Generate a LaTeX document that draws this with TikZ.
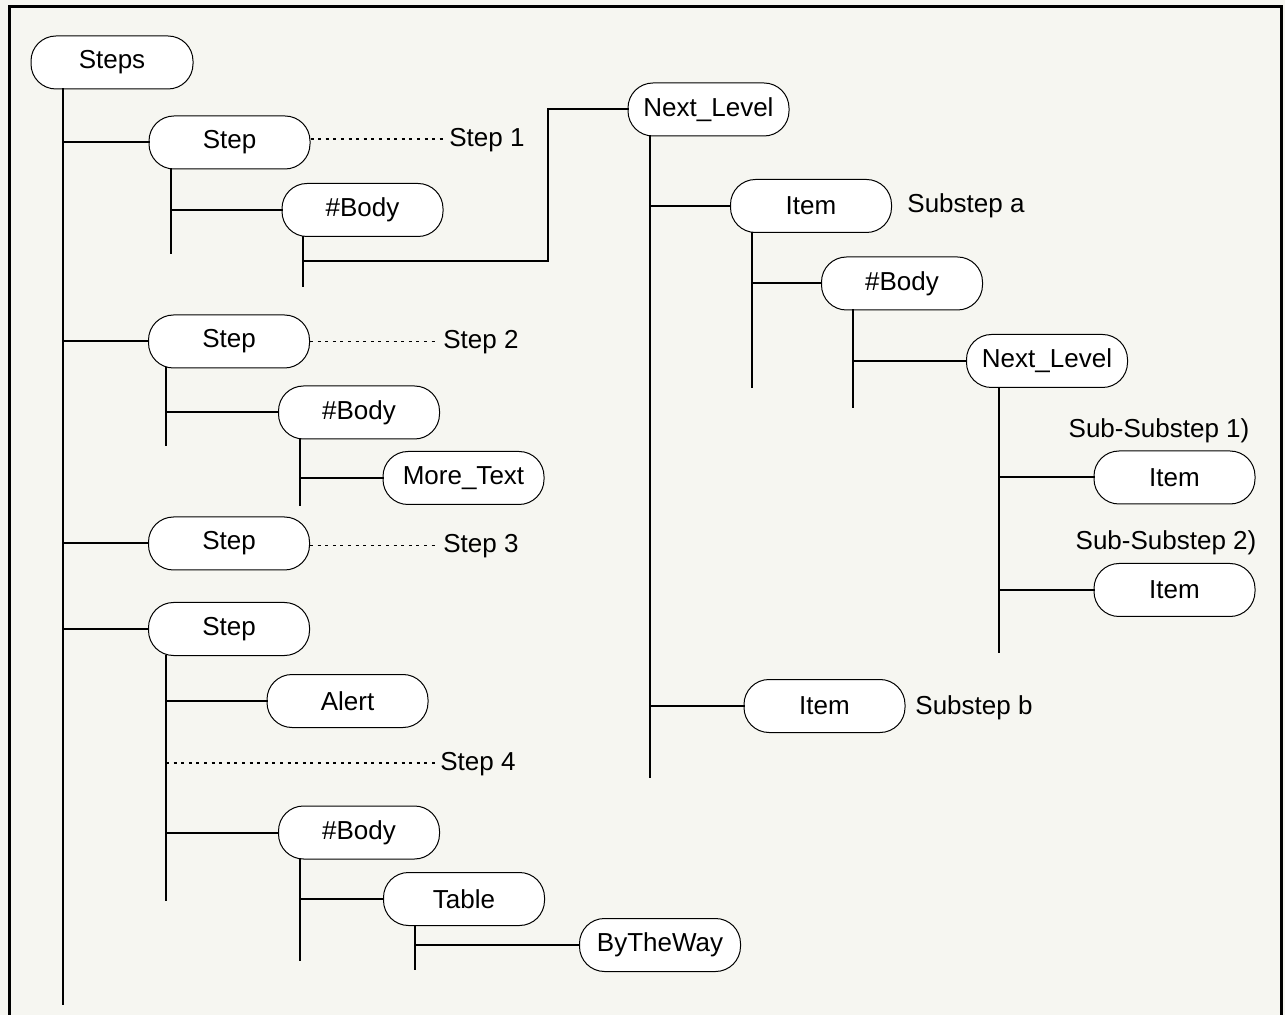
\documentclass[tikz,border=0pt]{standalone}
\usepackage{fontspec}
\setmainfont{Liberation Sans}
\definecolor{bgcol}{RGB}{246,246,241}
\tikzset{
  box/.style={draw, line width=0.5pt, fill=white, rounded corners=12.5pt,
    minimum width=80.5pt, minimum height=26.5pt, inner sep=0pt,
    font=\fontsize{13pt}{15pt}\selectfont},
  lab/.style={inner sep=2pt, text height=0.72em, text depth=0pt,
    font=\fontsize{13pt}{15pt}\selectfont},
  conn/.style={line width=1pt, line cap=rect},
  dotline/.style={line width=0.7pt, dash pattern=on 1.5pt off 2.3pt},
  frame/.style={line width=1.5pt}
}
\begin{document}
\begin{tikzpicture}[x=0.5pt, y=-0.5pt]
\fill[bgcol] (0,0) rectangle (1285,1015);
\useasboundingbox (0,0) rectangle (1285,1015);
\draw[frame] (9,1015) -- (9,7) -- (1281,7) -- (1281,1015);

% nodes
\node[box, minimum width=81pt] (steps) at (112,62.5) {Steps};
\node[box] (s1) at (229.5,142.5) {Step};
\node[box] (b1) at (362.5,210) {\#Body};
\node[box] (nl1) at (708.5,109.5) {Next\_Level};
\node[box] (ia) at (811,206) {Item};
\node[box] (b2) at (902,283.5) {\#Body};
\node[box] (nl2) at (1047,361) {Next\_Level};
\node[box] (ss1) at (1174.5,477.5) {Item};
\node[box] (ss2) at (1174.5,590) {Item};
\node[box] (ib) at (824.5,706) {Item};
\node[box] (s2) at (229,341.5) {Step};
\node[box] (b3) at (359,412.5) {\#Body};
\node[box] (mt) at (463.5,478) {More\_Text};
\node[box] (s3) at (229,543.5) {Step};
\node[box] (s4) at (229,629) {Step};
\node[box] (al) at (347.5,701) {Alert};
\node[box] (b4) at (359,832.5) {\#Body};
\node[box] (tb) at (464,899) {Table};
\node[box] (btw) at (660,945) {ByTheWay};

% labels
\node[lab, anchor=west] (l1) at (445,139) {Step 1};
\node[lab, anchor=west] (l2) at (439,341.5) {Step 2};
\node[lab, anchor=west] (l3) at (439,545.5) {Step 3};
\node[lab, anchor=west] (l4) at (436,763) {Step 4};
\node[lab, anchor=west] (la) at (903,205) {Substep a};
\node[lab, anchor=west] (lb) at (911,707.5) {Substep b};
\node[lab] (lss1) at (1159,430) {Sub-Substep 1)};
\node[lab] (lss2) at (1166,542.5) {Sub-Substep 2)};

% vertical line ends
\coordinate (v0) at (63,1004);
\coordinate (v1) at (171,253);
\coordinate (v2) at (303,286);
\coordinate (v3) at (650,777);
\coordinate (v4) at (752,387);
\coordinate (v5) at (853,407);
\coordinate (v6) at (999,652);
\coordinate (v7) at (166,445);
\coordinate (v8) at (300,505);
\coordinate (v9) at (166,900);
\coordinate (v10) at (300,960);
\coordinate (v11) at (415,969);
\coordinate (e1) at (548,261);

% trees
\draw[conn] (steps.south -| v0) -- (v0);
\draw[conn] (s1.west -| v0) -- (s1.west);
\draw[conn] (s2.west -| v0) -- (s2.west);
\draw[conn] (s3.west -| v0) -- (s3.west);
\draw[conn] (s4.west -| v0) -- (s4.west);

\draw[conn] (s1.south -| v1) -- (v1);
\draw[conn] (b1.west -| v1) -- (b1.west);
\draw[conn] (b1.south -| v2) -- (v2);
\draw[conn] (e1 -| v2) -- (e1) |- (nl1.west);

\draw[conn] (nl1.south -| v3) -- (v3);
\draw[conn] (ia.west -| v3) -- (ia.west);
\draw[conn] (ib.west -| v3) -- (ib.west);
\draw[conn] (ia.south -| v4) -- (v4);
\draw[conn] (b2.west -| v4) -- (b2.west);
\draw[conn] (b2.south -| v5) -- (v5);
\draw[conn] (nl2.west -| v5) -- (nl2.west);
\draw[conn] (nl2.south -| v6) -- (v6);
\draw[conn] (ss1.west -| v6) -- (ss1.west);
\draw[conn] (ss2.west -| v6) -- (ss2.west);

\draw[conn] (s2.south -| v7) -- (v7);
\draw[conn] (b3.west -| v7) -- (b3.west);
\draw[conn] (b3.south -| v8) -- (v8);
\draw[conn] (mt.west -| v8) -- (mt.west);

\draw[conn] (s4.south -| v9) -- (v9);
\draw[conn] (al.west -| v9) -- (al.west);
\draw[conn] (b4.west -| v9) -- (b4.west);
\draw[conn] (b4.south -| v10) -- (v10);
\draw[conn] (tb.west -| v10) -- (tb.west);
\draw[conn] (tb.south -| v11) -- (v11);
\draw[conn] (btw.west -| v11) -- (btw.west);

% dashed
\draw[dotline] (s1.east |- l1.west) -- (l1.west);
\draw[dotline] (s2.east |- l2.west) -- (l2.west);
\draw[dotline] (s3.east |- l3.west) -- (l3.west);
\draw[dotline] (v9 |- l4.west) -- (l4.west);
\end{tikzpicture}
\end{document}
